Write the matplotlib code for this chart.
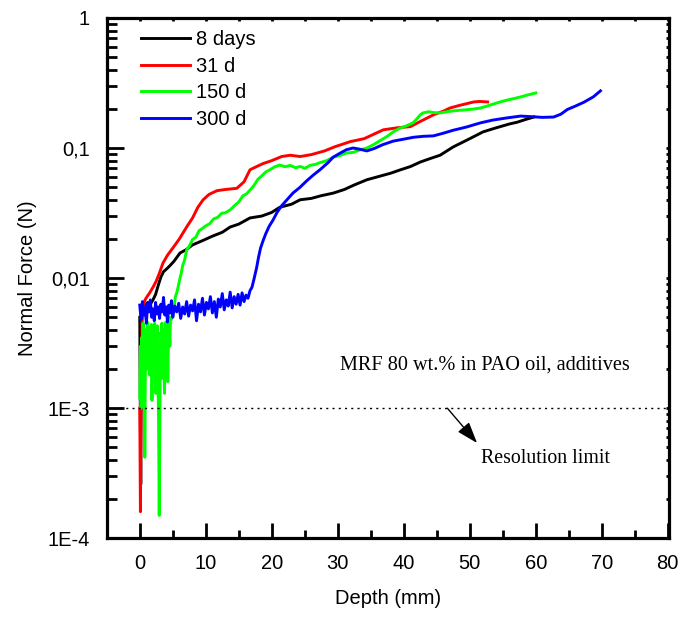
import matplotlib
matplotlib.use("Agg")
import matplotlib.pyplot as plt
from matplotlib.ticker import LogLocator, FixedLocator, NullFormatter, MultipleLocator

# ---------------- data ----------------
labels = ["8 days", "31 d", "150 d", "300 d"]
colors = ["#000000", "#ff0000", "#00ff00", "#0000ff"]

x_8d = [0.0, 0.15, 0.25, 0.4, 0.6, 0.9, 1.2, 1.6, 2.0, 2.4, 2.8, 3.2, 3.6, 4.1, 4.6,
        5.2, 6.1, 7.0, 8.0, 9.6, 11.0, 12.5, 13.7, 15.0, 16.7, 18.5, 20.0, 21.2, 23.0,
        24.3, 26.0, 27.5, 29.3, 31.0, 32.5, 34.4, 36.0, 38.0, 39.5, 41.0, 42.5, 44.0,
        45.5, 47.5, 50.0, 52.0, 54.0, 56.0, 57.2, 58.5, 59.7]
y_8d = [0.005, 0.00026, 0.0045, 0.006, 0.0058, 0.0062, 0.0065, 0.0063, 0.0068, 0.0075,
        0.0088, 0.0102, 0.0112, 0.0118, 0.0125, 0.0135, 0.0156, 0.0165, 0.018, 0.0195,
        0.021, 0.0225, 0.0247, 0.026, 0.029, 0.030, 0.032, 0.035, 0.037, 0.040, 0.041,
        0.043, 0.045, 0.048, 0.052, 0.057, 0.060, 0.064, 0.068, 0.072, 0.078, 0.083,
        0.088, 0.102, 0.118, 0.133, 0.143, 0.153, 0.158, 0.166, 0.173]

x_31d = [0.0, 0.1, 0.2, 0.35, 0.5, 0.8, 1.1, 1.5, 2.0, 2.5, 3.0, 3.5, 4.2, 5.0, 6.0,
         7.1, 8.0, 8.8, 9.6, 10.5, 11.7, 13.0, 14.7, 15.8, 16.7, 17.7, 18.7, 20.0,
         21.5, 22.8, 24.3, 26.0, 28.0, 29.5, 31.9, 34.0, 36.9, 39.0, 41.0, 42.5, 44.5,
         46.0, 47.0, 48.5, 50.6, 51.5, 52.7]
y_31d = [0.001, 0.00016, 0.0012, 0.0045, 0.006, 0.0068, 0.0072, 0.0077, 0.0085, 0.0095,
         0.011, 0.013, 0.015, 0.017, 0.020, 0.0247, 0.029, 0.035, 0.040, 0.044, 0.047,
         0.048, 0.049, 0.055, 0.068, 0.072, 0.076, 0.080, 0.086, 0.088, 0.086, 0.089,
         0.095, 0.102, 0.112, 0.118, 0.138, 0.143, 0.146, 0.160, 0.180, 0.192, 0.203,
         0.213, 0.226, 0.228, 0.226]

x_150d = [0.0, 0.1, 0.2, 0.3, 0.4, 0.5, 0.6, 0.7, 0.76, 0.85, 0.95, 1.05, 1.15, 1.25,
          1.35, 1.45, 1.55, 1.65, 1.75, 1.85, 1.95, 2.05, 2.15, 2.25, 2.35, 2.45, 2.55,
          2.65, 2.75, 2.85, 2.95, 3.05, 3.15, 3.25, 3.35, 3.45, 3.55, 3.65, 3.75, 3.85,
          3.95, 4.05, 4.15, 4.25, 4.35, 4.45, 4.55, 4.65, 4.8, 5.0, 5.2, 5.4, 5.6, 5.8,
          6.0, 6.3, 6.5, 6.8, 7.1, 7.5, 8.0, 8.5, 9.0, 9.5, 10.0, 10.6, 11.2, 11.8,
          12.4, 13.0, 13.7, 14.4, 15.0, 15.6, 16.2, 16.7, 17.3, 17.9, 18.5, 19.1, 19.7,
          20.4, 21.2, 22.0, 22.8, 23.6, 24.3, 25.0, 25.8, 26.6, 27.4, 28.2, 29.3, 30.3,
          31.3, 32.3, 33.3, 34.4, 35.4, 36.4, 37.4, 38.4, 39.4, 40.4, 41.4, 42.0, 42.5,
          42.9, 43.8, 44.6, 45.5, 46.5, 47.5, 48.5, 49.5, 50.5, 51.6, 52.6, 53.6, 54.6,
          55.7, 56.7, 57.7, 58.8, 60.0]
y_150d = [0.0012, 0.003, 0.0010, 0.0035, 0.0022, 0.0045, 0.0016, 0.0030, 0.00042, 0.0025,
          0.0040, 0.0020, 0.0046, 0.0028, 0.0042, 0.0018, 0.0036, 0.0024, 0.0044, 0.00115,
          0.0030, 0.0040, 0.0021, 0.0045, 0.0026, 0.0013, 0.0035, 0.0043, 0.0019, 0.0008,
          0.00015, 0.0009, 0.0038, 0.0025, 0.0045, 0.0017, 0.0040, 0.0023, 0.0013, 0.0037,
          0.0046, 0.0021, 0.0042, 0.0016, 0.0039, 0.0050, 0.0030, 0.0047, 0.0048, 0.0055,
          0.0060, 0.0072, 0.0077, 0.0085, 0.0095, 0.011, 0.0125, 0.0138, 0.0164, 0.0176,
          0.0198, 0.0206, 0.0232, 0.0241, 0.0252, 0.0262, 0.0285, 0.0293, 0.0315, 0.0318,
          0.0335, 0.0362, 0.0385, 0.0428, 0.0445, 0.0475, 0.0515, 0.0575, 0.0612, 0.0655,
          0.0680, 0.0715, 0.0740, 0.0718, 0.0735, 0.0705, 0.0722, 0.0698, 0.0735, 0.0748,
          0.0775, 0.0795, 0.0850, 0.0875, 0.0915, 0.0925, 0.0965, 0.1000, 0.1060, 0.1140,
          0.1220, 0.1330, 0.1420, 0.1480, 0.1560, 0.1680, 0.1800, 0.1860, 0.1900, 0.1870,
          0.1860, 0.1900, 0.1930, 0.1950, 0.1970, 0.1990, 0.2030, 0.2100, 0.2180, 0.2260,
          0.2340, 0.2400, 0.2470, 0.2560, 0.2650]

x_300d = [0.0, 0.2, 0.4, 0.6, 0.8, 1.0, 1.2, 1.4, 1.6, 1.8, 2.0, 2.2, 2.4, 2.6, 2.8, 3.0,
          3.2, 3.4, 3.6, 3.8, 4.0, 4.2, 4.4, 4.6, 4.8, 5.0, 5.3, 5.6, 5.9, 6.2, 6.5, 6.8,
          7.1, 7.4, 7.7, 8.0, 8.3, 8.6, 8.9, 9.2, 9.5, 9.8, 10.1, 10.4, 10.7, 11.0, 11.3,
          11.6, 11.9, 12.2, 12.5, 12.8, 13.1, 13.4, 13.7, 14.0, 14.3, 14.6, 14.9, 15.2,
          15.5, 15.8, 16.1, 16.4, 16.7, 17.0, 17.3, 17.7, 18.0, 18.3, 18.7, 19.1, 19.6,
          20.2, 20.8, 21.5, 22.3, 23.2, 24.3, 25.3, 26.3, 27.3, 28.5, 29.3, 30.3, 31.3,
          32.3, 33.3, 34.4, 35.5, 36.8, 38.4, 40.0, 41.5, 43.0, 44.5, 46.0, 47.5, 49.5,
          51.6, 53.5, 55.5, 57.7, 59.5, 61.0, 62.7, 63.8, 64.8, 66.0, 67.3, 68.7, 69.8]
y_300d = [0.0062, 0.0048, 0.0066, 0.0052, 0.0060, 0.0045, 0.0064, 0.0055, 0.0068, 0.0050,
          0.0058, 0.0047, 0.0065, 0.0053, 0.0060, 0.0049, 0.0063, 0.0055, 0.0071, 0.0052,
          0.0060, 0.0046, 0.0062, 0.0054, 0.0067, 0.0050, 0.0061, 0.0055, 0.0064, 0.0049,
          0.0060, 0.0053, 0.0066, 0.0051, 0.0062, 0.0056, 0.0068, 0.0047, 0.0063, 0.0055,
          0.0070, 0.0052, 0.0065, 0.0058, 0.0072, 0.0054, 0.0066, 0.0050, 0.0069, 0.0060,
          0.0076, 0.0057, 0.0068, 0.0061, 0.0078, 0.0059, 0.0072, 0.0063, 0.0075, 0.0062,
          0.0077, 0.0066, 0.0074, 0.0070, 0.0080, 0.0085, 0.0098, 0.012, 0.0145, 0.017,
          0.0195, 0.022, 0.025, 0.028, 0.032, 0.036, 0.040, 0.045, 0.050, 0.056, 0.062,
          0.068, 0.077, 0.085, 0.091, 0.097, 0.100, 0.098, 0.095, 0.099, 0.106, 0.113,
          0.117, 0.121, 0.123, 0.124, 0.130, 0.137, 0.145, 0.156, 0.164, 0.170, 0.176,
          0.174, 0.172, 0.173, 0.182, 0.198, 0.210, 0.225, 0.247, 0.275]

x_ticks = [0, 10, 20, 30, 40, 50, 60, 70, 80]
y_ticks = [1e-4, 1e-3, 1e-2, 1e-1, 1]
y_ticklabels = ["1E-4", "1E-3", "0,01", "0,1", "1"]
resolution_limit = 1e-3

# ---------------- figure ----------------
plt.rcParams['font.family'] = ['Liberation Sans', 'DejaVu Sans']
fig = plt.figure(figsize=(6.8, 6.18), dpi=100)
ax = fig.add_axes([0.157, 0.129, 0.827, 0.842])

series = [(x_8d, y_8d), (x_31d, y_31d), (x_150d, y_150d), (x_300d, y_300d)]
for (xs, ys), lab, col in zip(series, labels, colors):
    ax.plot(xs, ys, color=col, lw=2.1, label=lab, solid_joinstyle='round')

ax.axhline(resolution_limit, color='black', lw=1.0, ls=(0, (1.5, 3)))

ax.set_yscale('log')
ax.set_xlim(-5, 80.2)
ax.set_ylim(1e-4, 1)

ax.xaxis.set_major_locator(FixedLocator(x_ticks))
ax.xaxis.set_minor_locator(MultipleLocator(5))
ax.yaxis.set_major_locator(FixedLocator(y_ticks))
ax.set_yticklabels(y_ticklabels)
ax.yaxis.set_minor_locator(LogLocator(base=10, subs=range(2, 10), numticks=20))
ax.yaxis.set_minor_formatter(NullFormatter())

ax.tick_params(axis='x', which='major', direction='in', length=11, width=2, labelsize=14.5, pad=11)
ax.tick_params(axis='x', which='minor', direction='in', length=5.5, width=2)
ax.tick_params(axis='y', which='major', direction='in', length=12, width=2, labelsize=14.5, pad=12)
ax.tick_params(axis='y', which='minor', direction='in', length=7, width=2)
ax.tick_params(top=True, right=True, which='both')
for t in ax.xaxis.get_major_ticks() + ax.xaxis.get_minor_ticks():
    t.tick2line.set_markersize(2.5)
for t in ax.yaxis.get_major_ticks() + ax.yaxis.get_minor_ticks():
    t.tick2line.set_markersize(2.5)

for s in ax.spines.values():
    s.set_linewidth(2.3)

ax.set_xlabel("Depth (mm)", fontsize=14.5, labelpad=12)
ax.set_ylabel("Normal Force (N)", fontsize=14.5, labelpad=8)

leg = ax.legend(loc='upper left', bbox_to_anchor=(0.04, 1.0), frameon=False,
                fontsize=14.5, handlelength=2.4, handletextpad=0.3,
                labelspacing=0.38, borderaxespad=0.2)
for h in leg.get_lines():
    h.set_linewidth(2.1)

serif = ['Liberation Serif', 'DejaVu Serif']
ax.text(30.3, 2.15e-3, "MRF 80 wt.% in PAO oil, additives", family=serif,
        fontsize=14.6, va='center', ha='left')
ax.annotate("", xy=(51.1, 5.4e-4), xytext=(46.6, 1e-3),
            arrowprops=dict(arrowstyle='-|>,head_length=1.3,head_width=0.45',
                            color='black', lw=1.0, shrinkA=0, shrinkB=0))
ax.text(51.7, 4.1e-4, "Resolution limit", family=serif, fontsize=14.3,
        va='center', ha='left')

fig.savefig("out.png", dpi=100)
